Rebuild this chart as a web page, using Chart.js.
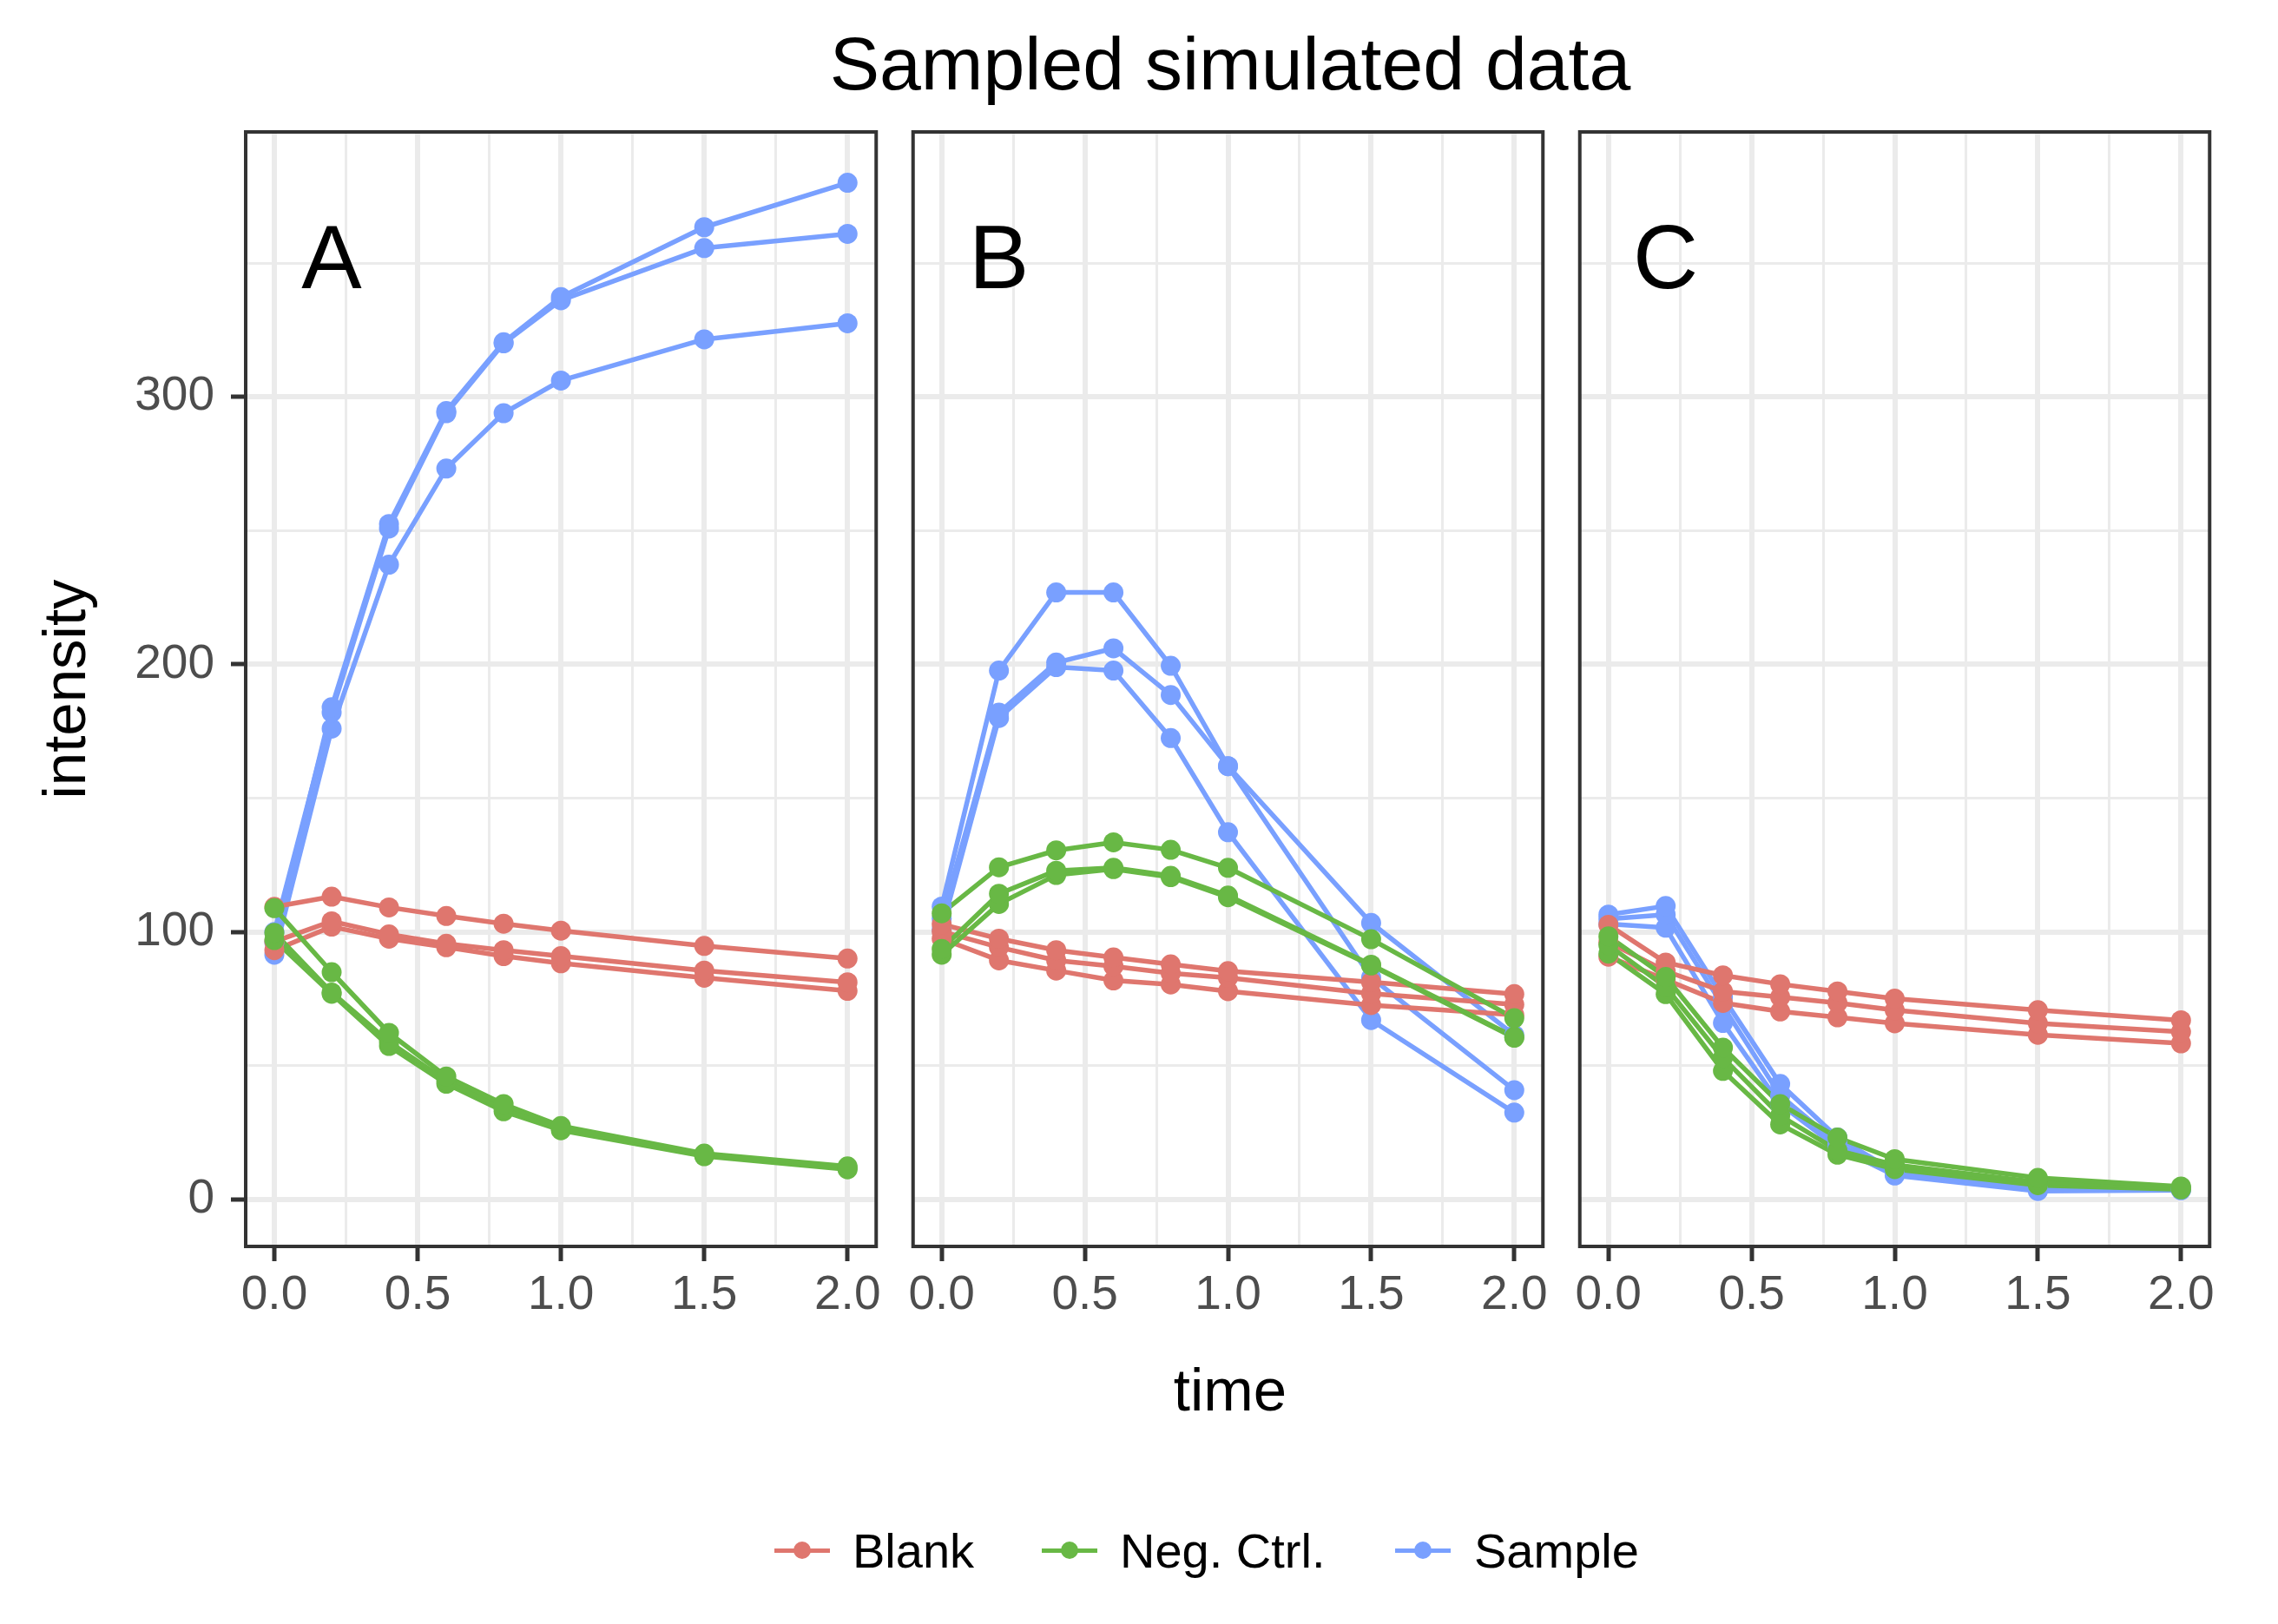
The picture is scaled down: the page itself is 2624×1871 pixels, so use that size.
<!DOCTYPE html>
<html>
<head>
<meta charset="utf-8">
<script src="https://cdn.jsdelivr.net/npm/chart.js@4.4.1/dist/chart.umd.min.js"></script>
<style>
html, body { margin: 0; padding: 0; background: #ffffff; }
#page { position: relative; width: 2624px; height: 1871px; overflow: hidden; background: #ffffff;
        font-family: 'Liberation Sans', Arial, Helvetica, sans-serif; }
canvas { position: absolute; top: 0; }
.txt { position: absolute; line-height: 1; white-space: nowrap; color: #000; }
.lg-line { position: absolute; height: 5px; }
.lg-dot { position: absolute; width: 20px; height: 20px; border-radius: 50%; }
</style>
</head>
<body>
<div id="page">
  <div class="txt" id="title" style="left:417px; width:2000px; text-align:center; top:30px; font-size:86px;">Sampled simulated data</div>
  <div class="txt" id="ytitle" style="left:74px; top:794px; font-size:69px; transform:translate(-50%,-50%) rotate(-90deg);">intensity</div>
  <div class="txt" id="xtitle" style="left:417px; width:2000px; text-align:center; top:1567px; font-size:69px;">time</div>
  <canvas id="cA"></canvas>
  <canvas id="cB"></canvas>
  <canvas id="cC"></canvas>
</div>
<script>
// ---------------- data ----------------
const times = [0, 0.2, 0.4, 0.6, 0.8, 1.0, 1.5, 2.0];
const groups = ['Blank', 'Neg. Ctrl.', 'Sample'];
const panelNames = ['A', 'B', 'C'];

const blankA = [
  [109.4, 113.2, 109.2, 106.0, 103.1, 100.5, 94.8, 90.1],
  [96.4, 104.0, 99.1, 95.6, 93.2, 91.0, 85.6, 81.2],
  [93.2, 102.0, 97.5, 94.3, 91.0, 88.3, 82.9, 78.0]
];
const negA = [
  [108.9, 85.0, 62.3, 46.0, 35.7, 27.5, 17.2, 12.4],
  [99.7, 77.4, 59.0, 44.4, 34.1, 26.5, 16.7, 11.8],
  [97.0, 76.9, 57.4, 43.3, 33.0, 25.9, 16.2, 11.3]
];
const sampleA = [
  [96.0, 184.0, 252.5, 294.7, 320.4, 337.3, 363.4, 380.0],
  [100.0, 182.0, 250.8, 293.9, 320.0, 336.1, 355.6, 360.9],
  [91.5, 176.0, 237.3, 273.2, 293.9, 306.1, 321.5, 327.5]
];

const blankB = [
  [102.9, 97.5, 93.2, 90.5, 87.9, 85.4, 81.3, 76.8],
  [100.2, 94.3, 89.4, 87.2, 84.6, 82.9, 77.0, 72.9],
  [97.5, 89.4, 85.6, 81.9, 80.4, 77.9, 72.7, 69.0]
];
const negB = [
  [107.0, 124.2, 130.5, 133.5, 130.7, 124.0, 97.3, 67.8],
  [93.7, 114.3, 122.9, 124.0, 121.0, 113.6, 87.8, 60.8],
  [91.5, 110.5, 121.3, 123.5, 120.5, 113.0, 87.5, 60.5]
];
const sampleB = [
  [109.5, 197.7, 226.9, 226.9, 199.5, 162.0, 83.0, 40.9],
  [105.0, 182.0, 200.7, 206.0, 188.6, 162.0, 103.4, 61.5],
  [101.0, 180.0, 199.0, 197.7, 172.5, 137.3, 67.1, 32.5]
];

const blankC = [
  [102.7, 88.6, 83.8, 80.5, 77.8, 75.1, 70.8, 67.0],
  [96.2, 85.4, 77.8, 75.7, 73.5, 70.8, 65.9, 62.7],
  [90.8, 82.2, 73.5, 70.3, 68.1, 65.9, 61.6, 58.4]
];
const negC = [
  [98.4, 83.2, 56.8, 35.7, 23.2, 15.1, 8.1, 4.9],
  [95.1, 79.5, 53.0, 31.4, 18.4, 13.0, 6.5, 4.3],
  [91.9, 76.8, 48.1, 28.1, 16.8, 11.4, 5.4, 3.8]
];
const sampleC = [
  [106.5, 109.7, 75.7, 43.2, 23.2, 10.5, 4.3, 4.3],
  [104.9, 106.5, 72.4, 38.9, 21.0, 9.7, 3.8, 3.8],
  [103.0, 101.6, 66.0, 35.7, 19.5, 9.0, 3.2, 3.5]
];

const xTickValues = [0, 0.25, 0.5, 0.75, 1.0, 1.25, 1.5, 1.75, 2.0];
const xTickLabels = ['0.0', '', '0.5', '', '1.0', '', '1.5', '', '2.0'];
const yTickValues = [0, 50, 100, 150, 200, 250, 300, 350];
const yTickLabels = ['0', '', '100', '', '200', '', '300', ''];
const letterX = 0.2;
const letterY = 350;

// ---------------- styles / layout ----------------
const FONT = "'Liberation Sans', Arial, Helvetica, sans-serif";
const groupColor = { 'Blank': '#DF766E', 'Neg. Ctrl.': '#68B845', 'Sample': '#79A0FF' };
const lineOrder = { 'Neg. Ctrl.': 4, 'Blank': 5, 'Sample': 6 };
const pointOrder = { 'Neg. Ctrl.': 1, 'Blank': 2, 'Sample': 3 };
const panelData = [
  { 'Blank': blankA, 'Neg. Ctrl.': negA, 'Sample': sampleA },
  { 'Blank': blankB, 'Neg. Ctrl.': negB, 'Sample': sampleB },
  { 'Blank': blankC, 'Neg. Ctrl.': negC, 'Sample': sampleC }
];
const panelLeft = [283, 1051, 1819];
const panelWidth = 731;
const yAxisW = [283, 0, 0];
const padLeft = [0, 12, 12];
const padRight = 8;
const canvasH = 1536;
const panelTop = 152;
const xAxisH = 100;

const borderPlugin = {
  id: 'panelBorder',
  afterDraw(chart) {
    const { ctx, chartArea: a } = chart;
    ctx.save();
    ctx.strokeStyle = '#333333';
    ctx.lineWidth = 4;
    ctx.strokeRect(a.left, a.top, a.right - a.left, a.bottom - a.top);
    ctx.restore();
  }
};
const letterPlugin = {
  id: 'panelLetter',
  afterDatasetsDraw(chart, args, opts) {
    const { ctx } = chart;
    const xs = chart.scales.x, ys = chart.scales.y;
    ctx.save();
    ctx.font = '104px ' + FONT;
    ctx.fillStyle = '#000000';
    ctx.textAlign = 'center';
    ctx.textBaseline = 'middle';
    ctx.fillText(opts.text, xs.getPixelForValue(letterX), ys.getPixelForValue(letterY));
    ctx.restore();
  }
};

function makeChart(canvasId, p) {
  const cv = document.getElementById(canvasId);
  const w = padLeft[p] + yAxisW[p] + panelWidth + padRight;
  cv.width = w; cv.height = canvasH;
  cv.style.width = w + 'px'; cv.style.height = canvasH + 'px';
  cv.style.left = (panelLeft[p] - yAxisW[p] - padLeft[p]) + 'px';

  const datasets = [];
  groups.forEach(g => {
    panelData[p][g].forEach(rep => {
      const pts = times.map((t, i) => ({ x: t, y: rep[i] }));
      datasets.push({ label: g, data: pts, borderColor: groupColor[g], backgroundColor: groupColor[g],
        borderWidth: 5.5, pointRadius: 0, pointHoverRadius: 0, tension: 0, fill: false,
        borderCapStyle: 'butt', borderJoinStyle: 'round', order: lineOrder[g] });
      datasets.push({ label: g, data: pts, showLine: false, borderColor: groupColor[g],
        backgroundColor: groupColor[g], pointBackgroundColor: groupColor[g], pointBorderColor: groupColor[g],
        pointRadius: 11.5, pointHoverRadius: 11.5, pointBorderWidth: 0, order: pointOrder[g] });
    });
  });

  const showY = p === 0;
  return new Chart(cv, {
    type: 'line',
    data: { datasets },
    options: {
      responsive: false, animation: false, devicePixelRatio: 1, events: [],
      layout: { padding: { left: padLeft[p], right: padRight, top: panelTop, bottom: 0 } },
      plugins: { legend: { display: false }, tooltip: { enabled: false }, title: { display: false },
                 panelLetter: { text: panelNames[p] } },
      scales: {
        x: {
          type: 'linear', position: 'bottom', min: -0.1, max: 2.1,
          afterBuildTicks: s => { s.ticks = xTickValues.map(v => ({ value: v })); },
          afterFit: s => { s.height = xAxisH; },
          border: { display: false },
          grid: {
            color: '#EBEBEB',
            lineWidth: c => (xTickLabels[c.index] ? 6 : 3),
            drawTicks: true, tickLength: 17, tickWidth: 5,
            tickColor: c => (xTickLabels[c.index] ? '#333333' : 'rgba(0,0,0,0)')
          },
          ticks: { autoSkip: false, maxRotation: 0, minRotation: 0, padding: 7, color: '#4D4D4D',
                   font: { family: FONT, size: 55, lineHeight: 1.2 },
                   callback: (v, i) => xTickLabels[i] }
        },
        y: {
          type: 'linear', position: 'left', min: -17.5, max: 399,
          afterBuildTicks: s => { s.ticks = yTickValues.map(v => ({ value: v })); },
          afterFit: s => { s.width = yAxisW[p]; },
          border: { display: false },
          grid: {
            color: '#EBEBEB',
            lineWidth: c => (yTickLabels[c.index] ? 6 : 3),
            drawTicks: showY, tickLength: 17, tickWidth: 5,
            tickColor: c => (yTickLabels[c.index] ? '#333333' : 'rgba(0,0,0,0)')
          },
          ticks: { display: showY, autoSkip: false, padding: 19, color: '#4D4D4D',
                   font: { family: FONT, size: 55, lineHeight: 1.2 },
                   callback: (v, i) => yTickLabels[i] }
        }
      }
    },
    plugins: [letterPlugin, borderPlugin]
  });
}

makeChart('cA', 0);
makeChart('cB', 1);
makeChart('cC', 2);

// ---------------- legend (HTML) ----------------
const legendIconLeft = [892, 1200, 1607];
const legendTextLeft = [982, 1290, 1698];
const legendCenterY = 1786;
const page = document.getElementById('page');
groups.forEach((g, i) => {
  const ln = document.createElement('div');
  ln.className = 'lg-line';
  ln.style.left = legendIconLeft[i] + 'px';
  ln.style.width = '64px';
  ln.style.top = (legendCenterY - 2.5) + 'px';
  ln.style.background = groupColor[g];
  page.appendChild(ln);
  const dot = document.createElement('div');
  dot.className = 'lg-dot';
  dot.style.left = (legendIconLeft[i] + 32 - 10) + 'px';
  dot.style.top = (legendCenterY - 10) + 'px';
  dot.style.background = groupColor[g];
  page.appendChild(dot);
  const tx = document.createElement('div');
  tx.className = 'txt';
  tx.style.left = legendTextLeft[i] + 'px';
  tx.style.top = (legendCenterY + 20 - 47.4) + 'px';
  tx.style.fontSize = '56px';
  tx.textContent = g;
  page.appendChild(tx);
});
</script>
</body>
</html>
